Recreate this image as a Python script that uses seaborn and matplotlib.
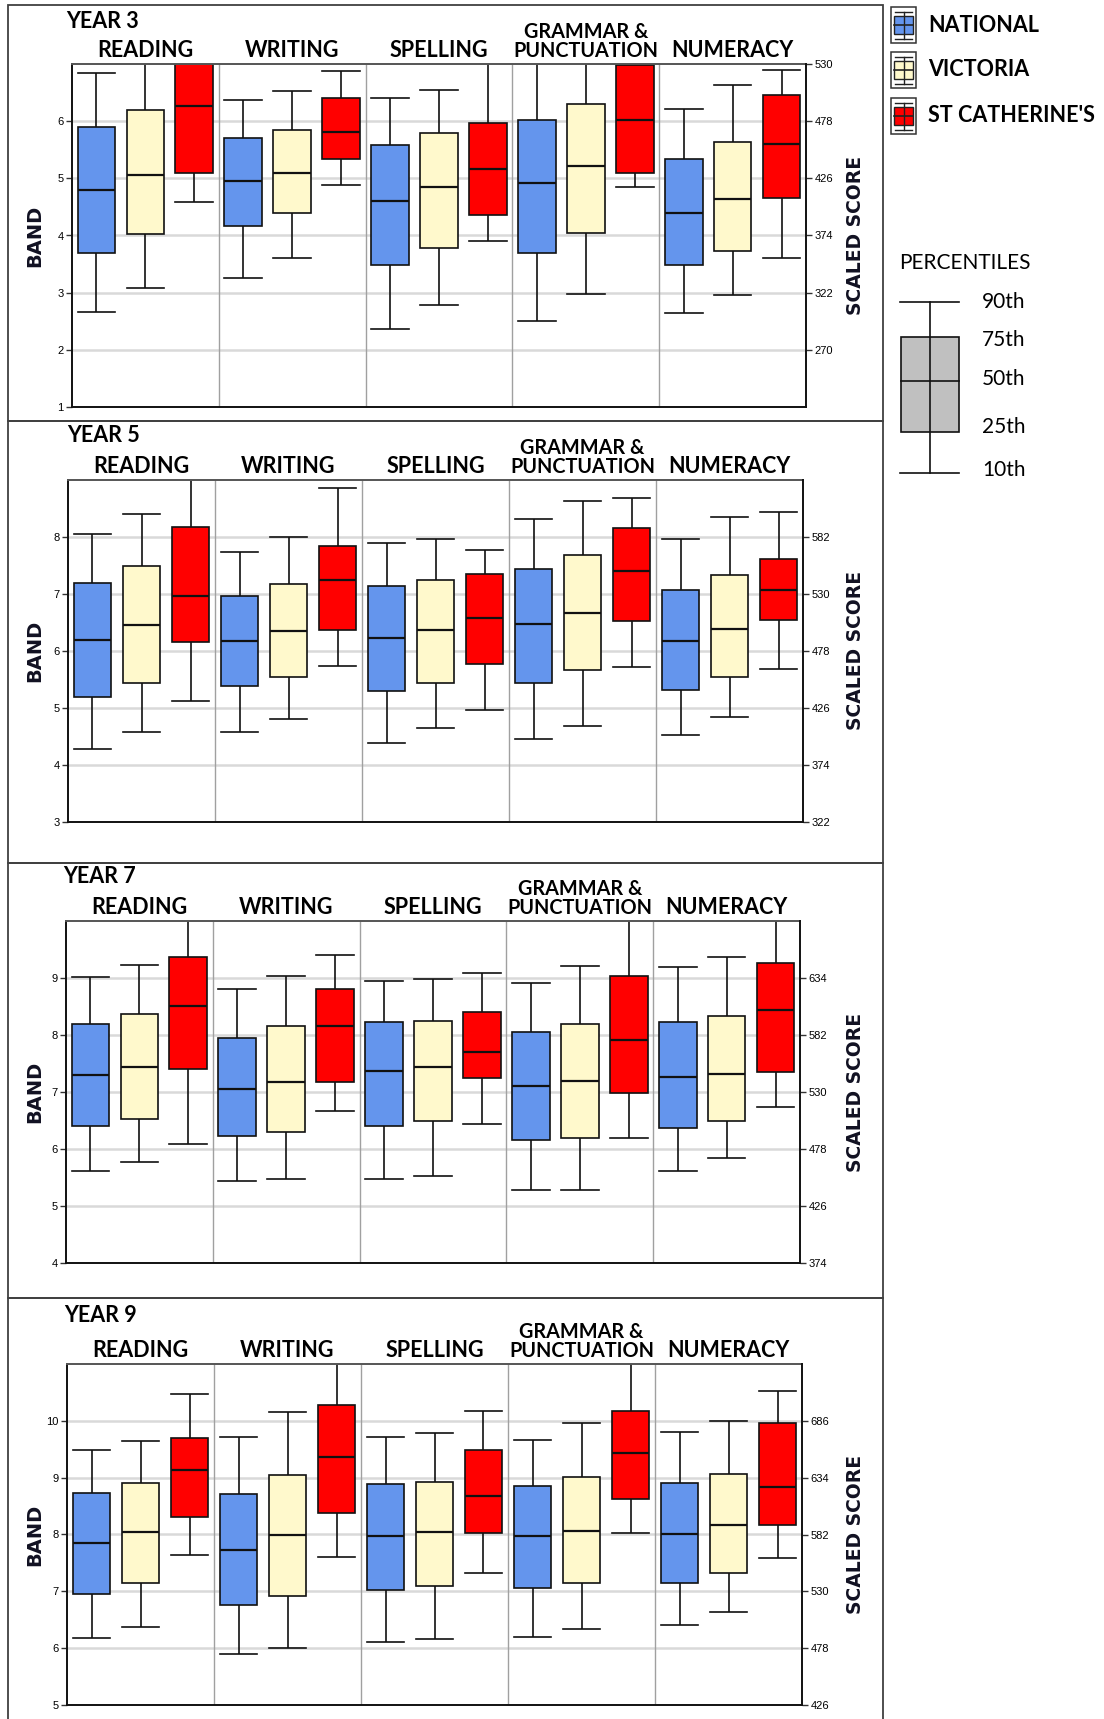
import numpy as np
import pandas as pd
import matplotlib
matplotlib.use("Agg")
import matplotlib.pyplot as plt
import seaborn as sns
from matplotlib.patches import Rectangle
from matplotlib.lines import Line2D

# ---------------- data ----------------
SUBJECTS = ["READING", "WRITING", "SPELLING", "GRAMMAR &\nPUNCTUATION", "NUMERACY"]
GROUPS = ["NATIONAL", "VICTORIA", "ST CATHERINE'S"]
COLORS = ["#6495ED", "#FFF9CC", "#FF0000"]
YEARS = ["YEAR 3", "YEAR 5", "YEAR 7", "YEAR 9"]
BAND_LO = [1, 3, 4, 5]
BAND_HI = [7, 9, 10, 11]
# which bands carry a scaled-score label on the right axis (first, last)
RIGHT_TICK_BANDS = [(2, 7), (3, 8), (4, 9), (5, 10)]
# scaled score = 52 * band + 166
SCALE_SLOPE = 52
SCALE_OFFSET = 166

# each entry: [10th, 25th, 50th, 75th, 90th] percentile, in band units, one per subject
Y3_NATIONAL = [[2.67, 3.70, 4.80, 5.90, 6.84], [3.26, 4.16, 4.95, 5.70, 6.37],
               [2.36, 3.48, 4.61, 5.59, 6.41], [2.50, 3.69, 4.91, 6.02, 7.20],
               [2.65, 3.48, 4.40, 5.33, 6.22]]
Y3_VICTORIA = [[3.09, 4.03, 5.06, 6.20, 7.20], [3.61, 4.40, 5.09, 5.85, 6.52],
               [2.79, 3.79, 4.85, 5.79, 6.54], [2.98, 4.05, 5.22, 6.30, 7.10],
               [2.96, 3.73, 4.63, 5.63, 6.64]]
Y3_STCATH = [[4.59, 5.10, 6.26, 7.20, 7.60], [4.89, 5.33, 5.81, 6.40, 6.87],
             [3.90, 4.35, 5.16, 5.96, 7.20], [4.84, 5.10, 6.02, 6.99, 7.40],
             [3.61, 4.65, 5.60, 6.45, 6.90]]

Y5_NATIONAL = [[4.28, 5.19, 6.19, 7.19, 8.06], [4.58, 5.38, 6.18, 6.97, 7.74],
               [4.39, 5.29, 6.22, 7.14, 7.89], [4.45, 5.44, 6.48, 7.44, 8.32],
               [4.52, 5.32, 6.18, 7.07, 7.96]]
Y5_VICTORIA = [[4.58, 5.44, 6.45, 7.49, 8.41], [4.80, 5.55, 6.35, 7.17, 8.00],
               [4.65, 5.44, 6.36, 7.24, 7.96], [4.69, 5.66, 6.67, 7.68, 8.64],
               [4.85, 5.55, 6.39, 7.33, 8.35]]
Y5_STCATH = [[5.12, 6.15, 6.97, 8.17, 9.20], [5.74, 6.36, 7.24, 7.85, 8.86],
             [4.97, 5.77, 6.58, 7.35, 7.77], [5.72, 6.52, 7.40, 8.15, 8.69],
             [5.68, 6.54, 7.07, 7.61, 8.43]]

Y7_NATIONAL = [[5.61, 6.40, 7.30, 8.20, 9.02], [5.43, 6.23, 7.06, 7.94, 8.81],
               [5.47, 6.40, 7.37, 8.22, 8.95], [5.28, 6.16, 7.11, 8.05, 8.91],
               [5.62, 6.37, 7.26, 8.22, 9.19]]
Y7_VICTORIA = [[5.78, 6.53, 7.43, 8.37, 9.23], [5.47, 6.29, 7.17, 8.16, 9.04],
               [5.52, 6.49, 7.43, 8.24, 8.98], [5.28, 6.20, 7.19, 8.20, 9.21],
               [5.84, 6.50, 7.32, 8.33, 9.36]]
Y7_STCATH = [[6.09, 7.41, 8.51, 9.36, 10.20], [6.66, 7.17, 8.16, 8.81, 9.41],
             [6.44, 7.24, 7.70, 8.41, 9.08], [6.20, 6.98, 7.92, 9.04, 10.30],
             [6.74, 7.35, 8.44, 9.26, 10.20]]

Y9_NATIONAL = [[6.18, 6.95, 7.85, 8.73, 9.49], [5.90, 6.76, 7.73, 8.72, 9.71],
               [6.10, 7.02, 7.97, 8.89, 9.72], [6.20, 7.06, 7.97, 8.86, 9.66],
               [6.40, 7.15, 8.01, 8.90, 9.81]]
Y9_VICTORIA = [[6.38, 7.14, 8.05, 8.90, 9.64], [6.01, 6.91, 7.99, 9.04, 10.15],
               [6.16, 7.10, 8.05, 8.93, 9.79], [6.34, 7.15, 8.07, 9.02, 9.96],
               [6.63, 7.32, 8.16, 9.06, 10.00]]
Y9_STCATH = [[7.64, 8.31, 9.14, 9.70, 10.48], [7.61, 8.37, 9.36, 10.28, 11.20],
             [7.32, 8.03, 8.67, 9.49, 10.18], [8.03, 8.63, 9.44, 10.18, 11.20],
             [7.58, 8.16, 8.83, 9.96, 10.52]]

DATA = {
    "YEAR 3": [Y3_NATIONAL, Y3_VICTORIA, Y3_STCATH],
    "YEAR 5": [Y5_NATIONAL, Y5_VICTORIA, Y5_STCATH],
    "YEAR 7": [Y7_NATIONAL, Y7_VICTORIA, Y7_STCATH],
    "YEAR 9": [Y9_NATIONAL, Y9_VICTORIA, Y9_STCATH],
}

rows = []
for year in YEARS:
    for gi, g in enumerate(GROUPS):
        for si, s in enumerate(SUBJECTS):
            for v in DATA[year][gi][si]:
                rows.append((year, s, g, v))
df = pd.DataFrame(rows, columns=["year", "subject", "group", "band"])

# ---------------- layout ----------------
W, H = 1104, 1719
fig = plt.figure(figsize=(W / 100, H / 100), dpi=100)
fig.patch.set_facecolor("white")

TXT = ["Lato", "DejaVu Sans"]
TICKF = ["Liberation Sans", "DejaVu Sans"]


def fx(x):
    return x / W


def fy(y):
    return 1 - y / H


# panel frames
PANELS = [(8, 5, 883, 421), (8, 421, 883, 863), (8, 863, 883, 1298), (8, 1298, 883, 1725)]
for (x0, y0, x1, y1) in PANELS:
    fig.add_artist(Rectangle((fx(x0), fy(y1)), fx(x1 - x0), (y1 - y0) / H,
                             transform=fig.transFigure, fill=False,
                             edgecolor="#404040", lw=1.3))

AX_PX = [(72, 64, 806, 407), (68, 480, 803, 822), (66, 921, 800, 1263), (67, 1364, 802, 1705)]
YEAR_LBL_PX = [(66, 22), (67, 435), (63, 876), (64, 1315)]

for yi, year in enumerate(YEARS):
    x0, y0, x1, y1 = AX_PX[yi]
    ax = fig.add_axes([fx(x0), fy(y1), (x1 - x0) / W, (y1 - y0) / H])
    lo, hi = BAND_LO[yi], BAND_HI[yi]
    sub = df[df["year"] == year]
    sns.boxplot(data=sub, x="subject", y="band", hue="group",
                order=SUBJECTS, hue_order=GROUPS, palette=COLORS,
                saturation=1, width=1.0, gap=0.23, whis=(0, 100),
                showfliers=False, linecolor="#111111", linewidth=1.2,
                legend=False, ax=ax,
                medianprops=dict(lw=1.6, color="#111111"))
    # widen caps to box width
    spans = []
    for ln in ax.lines:
        xd = np.asarray(ln.get_xdata(), float)
        yd = np.asarray(ln.get_ydata(), float)
        if len(xd) == 2 and yd[0] == yd[1] and xd[0] != xd[1]:
            spans.append(abs(xd[1] - xd[0]))
    bw = max(spans)
    for ln in ax.lines:
        xd = np.asarray(ln.get_xdata(), float)
        yd = np.asarray(ln.get_ydata(), float)
        if len(xd) == 2 and yd[0] == yd[1] and abs(xd[1] - xd[0]) < 0.75 * bw:
            c = xd.mean()
            ln.set_xdata([c - bw / 2, c + bw / 2])

    ax.set_xlim(-0.5, len(SUBJECTS) - 0.5)
    ax.set_ylim(lo, hi)
    ax.set_axisbelow(True)
    ax.yaxis.grid(True, color="#d9d9d9", lw=1.8)
    ax.xaxis.grid(False)
    for k in range(len(SUBJECTS) - 1):
        ax.axvline(k + 0.5, color="#a0a0a0", lw=1.0, zorder=0.6)
    ax.set_xticks([])
    ax.set_xlabel("")
    ax.set_yticks(range(lo, hi))
    ax.set_yticklabels([str(b) for b in range(lo, hi)], family=TICKF, fontsize=8)
    ax.tick_params(axis="y", length=4, width=1, color="#333333", pad=2)
    ax.set_ylabel("BAND", family="DejaVu Sans", fontweight="bold", fontsize=14, color="#111122")
    ax.yaxis.set_label_coords((44 - x0) / (x1 - x0), 0.5)
    for sp in ["left", "bottom"]:
        ax.spines[sp].set_color("#111111")
        ax.spines[sp].set_linewidth(1.4)
    ax.spines["top"].set_color("#555555")
    ax.spines["top"].set_linewidth(1.4)
    ax.spines["right"].set_visible(False)

    ax2 = ax.twinx()
    ax2.set_ylim(SCALE_SLOPE * lo + SCALE_OFFSET, SCALE_SLOPE * hi + SCALE_OFFSET)
    b0, b1 = RIGHT_TICK_BANDS[yi]
    rt = [SCALE_SLOPE * b + SCALE_OFFSET for b in range(b0, b1 + 1)]
    ax2.set_yticks(rt)
    ax2.set_yticklabels([str(v) for v in rt], family=TICKF, fontsize=8)
    ax2.tick_params(axis="y", length=4, width=1, color="#333333", pad=2)
    for sp in ["left", "top", "bottom"]:
        ax2.spines[sp].set_visible(False)
    ax2.spines["right"].set_color("#111111")
    ax2.spines["right"].set_linewidth(1.4)
    ax2.set_ylabel("SCALED SCORE", family="DejaVu Sans", fontweight="bold",
                   fontsize=13.5, color="#111122", rotation=90)
    ax2.yaxis.set_label_coords((846 - x0) / (x1 - x0), 0.5)

    for si, s in enumerate(SUBJECTS):
        ax.annotate(s, xy=(si, 1), xycoords=("data", "axes fraction"),
                    xytext=(0, 2.5), textcoords="offset points",
                    ha="center", va="bottom", multialignment="center",
                    family=TXT, fontweight="bold",
                    fontsize=14.3 if "\n" in s else 15.5, linespacing=0.9)

    lx, ly = YEAR_LBL_PX[yi]
    fig.text(fx(lx), fy(ly), year, ha="left", va="center", family=TXT,
             fontweight="bold", fontsize=15.5)

# ---------------- legend ----------------
ICON_TOPS = [7, 52, 98]
TEXT_Y = [25, 70, 116]
for gi, g in enumerate(GROUPS):
    t = ICON_TOPS[gi]
    fig.add_artist(Rectangle((fx(891), fy(t + 36)), fx(25), 36 / H,
                             transform=fig.transFigure, fill=False,
                             edgecolor="#333333", lw=1.1))
    cx = 903.5
    fig.add_artist(Line2D([fx(cx), fx(cx)], [fy(t + 5), fy(t + 32)],
                          transform=fig.transFigure, color="#222222", lw=1))
    for cy in (t + 5, t + 32):
        fig.add_artist(Line2D([fx(895), fx(912)], [fy(cy), fy(cy)],
                              transform=fig.transFigure, color="#222222", lw=1))
    fig.add_artist(Rectangle((fx(894), fy(t + 27)), fx(19), 18 / H,
                             transform=fig.transFigure, facecolor=COLORS[gi],
                             edgecolor="#222222", lw=1))
    fig.add_artist(Line2D([fx(894), fx(913)], [fy(t + 18), fy(t + 18)],
                          transform=fig.transFigure, color="#222222", lw=1.2))
    fig.text(fx(928), fy(TEXT_Y[gi]), g, ha="left", va="center", family=TXT,
             fontweight="bold", fontsize=15.5)

fig.text(fx(899), fy(263), "PERCENTILES", ha="left", va="center", family=TXT,
         fontsize=15)
# schematic key
fig.add_artist(Line2D([fx(930), fx(930)], [fy(302), fy(473)],
                      transform=fig.transFigure, color="#111111", lw=1.2))
for cy in (302, 473):
    fig.add_artist(Line2D([fx(900), fx(959)], [fy(cy), fy(cy)],
                          transform=fig.transFigure, color="#111111", lw=1.2))
fig.add_artist(Rectangle((fx(901), fy(432)), fx(58), 95 / H,
                         transform=fig.transFigure, facecolor="#C0C0C0",
                         edgecolor="#111111", lw=1.2))
fig.add_artist(Line2D([fx(901), fx(959)], [fy(381), fy(381)],
                      transform=fig.transFigure, color="#111111", lw=1.2))
for lbl, yy in zip(["90th", "75th", "50th", "25th", "10th"], [302, 340, 379, 427, 470]):
    fig.text(fx(982), fy(yy), lbl, ha="left", va="center", family=TXT, fontsize=15)

fig.savefig("out.png", dpi=100, facecolor="white")
